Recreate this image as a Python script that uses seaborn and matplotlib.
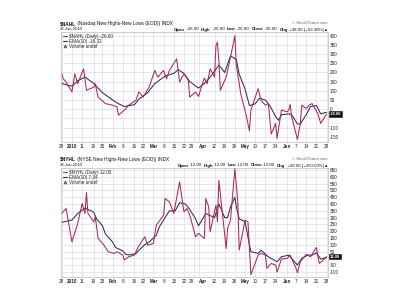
import matplotlib
matplotlib.use("Agg")
import matplotlib.pyplot as plt
import matplotlib.dates as mdates
from matplotlib.lines import Line2D
import seaborn as sns
import pandas as pd

# ---------------- data ----------------
nahl_dates = ['2009-12-28','2009-12-29','2009-12-31','2010-01-04','2010-01-06','2010-01-08','2010-01-12','2010-01-14',
              '2010-01-19','2010-01-20','2010-01-22','2010-01-27','2010-02-01','2010-02-04','2010-02-05','2010-02-09',
              '2010-02-12','2010-02-17','2010-02-19','2010-02-22','2010-02-26','2010-03-02','2010-03-04','2010-03-08',
              '2010-03-10','2010-03-12','2010-03-17','2010-03-19','2010-03-22','2010-03-25','2010-03-26','2010-03-30',
              '2010-04-01','2010-04-05','2010-04-07','2010-04-09','2010-04-12','2010-04-13','2010-04-14','2010-04-15',
              '2010-04-16','2010-04-20','2010-04-23','2010-04-26','2010-04-27','2010-04-29','2010-04-30','2010-05-04',
              '2010-05-06','2010-05-07','2010-05-12','2010-05-14','2010-05-17','2010-05-19','2010-05-21','2010-05-24',
              '2010-05-25','2010-05-28','2010-06-01','2010-06-02','2010-06-03','2010-06-04','2010-06-08','2010-06-10',
              '2010-06-11','2010-06-14','2010-06-16','2010-06-18','2010-06-22','2010-06-24','2010-06-28']
nahl_daily = [193,166,148,94,193,139,220,103,
              120,139,66,31,22,13,-32,-5,
              22,49,94,66,120,211,175,211,
              166,211,274,148,193,157,66,94,
              70,170,139,220,175,346,364,265,
              103,175,283,400,238,139,85,-41,
              -117,-5,112,49,22,31,-135,-77,
              -158,-5,-14,-5,27,-41,-164,-77,
              22,4,22,31,-23,-77,-26]

nahl_ema_dates = ['2009-12-28','2010-01-04','2010-01-08','2010-01-13','2010-01-19','2010-01-25','2010-02-01','2010-02-05',
                  '2010-02-09','2010-02-16','2010-02-19','2010-02-25','2010-03-02','2010-03-09','2010-03-15','2010-03-18',
                  '2010-03-22','2010-03-26','2010-04-01','2010-04-05','2010-04-09','2010-04-15','2010-04-19','2010-04-23',
                  '2010-04-27','2010-04-29','2010-05-03','2010-05-06','2010-05-10','2010-05-13','2010-05-17','2010-05-20',
                  '2010-05-24','2010-05-26','2010-05-28','2010-06-02','2010-06-04','2010-06-08','2010-06-10','2010-06-14',
                  '2010-06-17','2010-06-21','2010-06-24','2010-06-28']
nahl_ema = [140,125,155,175,140,90,50,30,
            15,25,55,90,140,180,195,215,
            195,150,115,140,175,240,200,290,
            270,190,110,20,30,60,50,20,
            -40,-60,-30,-25,-30,-80,-80,-30,
            15,20,-25,-16]

nyhl_dates = ['2009-12-28','2009-12-31','2010-01-04','2010-01-08','2010-01-11','2010-01-13','2010-01-14','2010-01-15',
              '2010-01-19','2010-01-20','2010-01-21','2010-01-22','2010-01-26','2010-01-29','2010-02-02','2010-02-04',
              '2010-02-08','2010-02-09','2010-02-12','2010-02-16','2010-02-18','2010-02-23','2010-02-25','2010-03-01',
              '2010-03-03','2010-03-08','2010-03-09','2010-03-12','2010-03-15','2010-03-19','2010-03-22','2010-03-24',
              '2010-03-26','2010-03-30','2010-04-01','2010-04-05','2010-04-06','2010-04-08','2010-04-09','2010-04-13',
              '2010-04-14','2010-04-15','2010-04-20','2010-04-21','2010-04-23','2010-04-26','2010-04-28','2010-04-29',
              '2010-05-03','2010-05-05','2010-05-07','2010-05-12','2010-05-14','2010-05-17','2010-05-18','2010-05-21',
              '2010-05-24','2010-05-25','2010-05-28','2010-06-01','2010-06-03','2010-06-07','2010-06-08','2010-06-10',
              '2010-06-14','2010-06-17','2010-06-21','2010-06-23','2010-06-25','2010-06-28']
nyhl_daily = [331,367,122,257,404,331,485,331,
              269,306,232,147,98,49,37,49,
              24,-12,12,24,73,159,98,110,
              245,318,441,416,331,563,343,367,
              318,159,184,147,441,379,196,392,
              269,575,73,220,282,661,416,61,
              282,269,-120,24,37,24,-73,-37,
              -49,-100,-5,0,24,-73,-105,-25,
              29,12,80,-37,-20,12]

nyhl_ema_dates = ['2009-12-28','2010-01-04','2010-01-08','2010-01-13','2010-01-19','2010-01-21','2010-01-25','2010-01-27',
                  '2010-02-01','2010-02-03','2010-02-08','2010-02-10','2010-02-12','2010-02-17','2010-02-19','2010-02-23',
                  '2010-02-26','2010-03-03','2010-03-05','2010-03-09','2010-03-12','2010-03-16','2010-03-19','2010-03-23',
                  '2010-03-26','2010-03-30','2010-04-01','2010-04-06','2010-04-12','2010-04-15','2010-04-19','2010-04-21',
                  '2010-04-23','2010-04-26','2010-04-27','2010-04-29','2010-05-03','2010-05-06','2010-05-07','2010-05-12',
                  '2010-05-14','2010-05-19','2010-05-21','2010-05-25','2010-05-28','2010-06-02','2010-06-04','2010-06-08',
                  '2010-06-11','2010-06-15','2010-06-18','2010-06-21','2010-06-24','2010-06-28']
nyhl_ema = [265,282,330,370,340,290,240,180,
            120,80,55,30,25,35,60,100,
            120,170,230,300,350,350,410,400,
            360,290,240,330,300,400,300,300,
            380,450,380,290,270,100,50,37,
            60,12,0,-25,12,24,0,-49,
            0,24,24,40,-5,7]

tick_dates = ['2009-12-28','2010-01-04','2010-01-11','2010-01-19','2010-01-25','2010-02-01','2010-02-08','2010-02-16',
              '2010-02-22','2010-03-01','2010-03-08','2010-03-15','2010-03-22','2010-03-29','2010-04-01','2010-04-12',
              '2010-04-19','2010-04-26','2010-05-03','2010-05-10','2010-05-17','2010-05-24','2010-06-01','2010-06-07',
              '2010-06-14','2010-06-21','2010-06-28']
tick_labels = ['28','2010','11','19','25','Feb','8','16','22','Mar','8','15','22','29','Apr','12','19','26',
               'May','10','17','24','Jun','7','14','21','28']
bold_labels = {'2010','Feb','Mar','Apr','May','Jun'}

top_yticks = list(range(-150, 401, 50))
bot_yticks = list(range(-100, 651, 50))

# ---------------- style ----------------
sns.set_theme(style="white")
plt.rcParams['font.family'] = ['Liberation Sans', 'DejaVu Sans']

RED = '#a8285c'
NAVY = '#2b2b5e'
GRID = '#dcdcdc'
W, H = 400, 300

fig = plt.figure(figsize=(4, 3), dpi=100)
fig.patch.set_facecolor('white')


def px_axes(l, t, r, b):
    return fig.add_axes([l / W, 1 - b / H, (r - l) / W, (b - t) / H])


def rich(x, y, pieces, ha='left', size=3.4):
    r = fig.canvas.get_renderer()
    texts = []
    for s, w, c in pieces:
        texts.append(fig.text(0, 0, s, fontsize=size, fontweight=w, color=c, va='center'))
    widths = [t.get_window_extent(r).width for t in texts]
    cur = x - sum(widths) if ha == 'right' else x
    for t, wd in zip(texts, widths):
        t.set_position((cur / W, 1 - y / H))
        cur += wd


def panel(ax, dates, daily, edates, ema, yticks, ylim, sym, dval, eval_, box_text, hide_tick):
    sns.lineplot(x=pd.to_datetime(edates), y=ema, ax=ax, color=NAVY, lw=0.75, estimator=None)
    sns.lineplot(x=pd.to_datetime(dates), y=daily, ax=ax, color=RED, lw=0.75, estimator=None)
    ax.set_xlim(pd.Timestamp('2009-12-27 12:00'), pd.Timestamp('2010-06-29 00:00'))
    ax.set_ylim(*ylim)
    ax.set_xticks(pd.to_datetime(tick_dates))
    ax.set_xticklabels(tick_labels)
    for i, lab in enumerate(ax.get_xticklabels()):
        lab.set_fontsize(3.3)
        lab.set_color('#222222')
        if lab.get_text() in bold_labels:
            lab.set_fontweight('bold')
        if tick_dates[i] == '2010-03-29':
            lab.set_horizontalalignment('right')
        if tick_dates[i] == '2010-04-01':
            lab.set_horizontalalignment('left')
    ax.set_yticks(yticks)
    ax.set_yticklabels(['' if v == hide_tick else str(v) for v in yticks], fontsize=3.3, color='#222222')
    ax.yaxis.tick_right()
    ax.tick_params(axis='both', length=0, pad=1.5)
    ax.grid(True, color=GRID, lw=0.5)
    ax.set_axisbelow(True)
    ax.set_xlabel('')
    ax.set_ylabel('')
    for sp in ax.spines.values():
        sp.set_color('#bbbbbb')
        sp.set_linewidth(0.5)
    handles = [Line2D([], [], color=RED, lw=0.8), Line2D([], [], color=NAVY, lw=0.8),
               Line2D([], [], color='#666666', marker='^', lw=0, markersize=1.6)]
    labels = [f'\\{sym} (Daily) {dval}', f'EMA(10) {eval_}', 'Volume undef']
    leg = ax.legend(handles, labels, loc='upper left', frameon=False, fontsize=3.3,
                    handlelength=1.0, handletextpad=0.3, labelspacing=0.05,
                    borderaxespad=0.25, borderpad=0.1)
    for t in leg.get_texts():
        t.set_color('#222222')
    ax.annotate(box_text, xy=(1.0, daily[-1]), xycoords=('axes fraction', 'data'),
                xytext=(1.5, 0), textcoords='offset points', fontsize=3.0, color='white',
                va='center', ha='left', fontweight='bold',
                bbox=dict(boxstyle='square,pad=0.15', fc='#111111', ec='#111111', lw=0.4),
                annotation_clip=False)


ax1 = px_axes(61, 32, 328, 142)
panel(ax1, nahl_dates, nahl_daily, nahl_ema_dates, nahl_ema, top_yticks, (-178, 420),
      '$NAHL', '-26.00', '-16.32', '-26.00', -50)

ax2 = px_axes(61, 168, 328, 277)
panel(ax2, nyhl_dates, nyhl_daily, nyhl_ema_dates, nyhl_ema, bot_yticks, (-137, 665),
      '$NYHL', '12.00', '7.34', '12.00', 0)

K = '#111111'
# headers - top
rich(60, 23.5, [('\\$NAHL', 'bold', K), (' (Nasdaq New Highs-New Lows (EOD)) INDX', 'normal', K)], size=3.4)
fig.text(60 / W, 1 - 29 / H, '28-Jun-2010', fontsize=3.0, color=K, va='center')
fig.text(328 / W, 1 - 23.5 / H, '© StockCharts.com', fontsize=3.0, color='#666666', va='center', ha='right')
rich(328, 29.5, [('Open', 'bold', K), (' -26.00  ', 'normal', K), ('High', 'bold', K), (' -26.00  ', 'normal', K),
                 ('Low', 'bold', K), (' -26.00  ', 'normal', K), ('Close', 'bold', K), (' -26.00  ', 'normal', K),
                 ('Chg', 'bold', K), (' +38.00 (+59.38%)▲', 'normal', K)], ha='right', size=3.2)

# headers - bottom
rich(60, 159, [('\\$NYHL', 'bold', K), (' (NYSE New Highs-New Lows (EOD)) INDX', 'normal', K)], size=3.4)
fig.text(60 / W, 1 - 165 / H, '28-Jun-2010', fontsize=3.0, color=K, va='center')
fig.text(328 / W, 1 - 159.5 / H, '© StockCharts.com', fontsize=3.0, color='#666666', va='center', ha='right')
rich(328, 165.5, [('Open', 'bold', K), (' 12.00  ', 'normal', K), ('High', 'bold', K), (' 12.00  ', 'normal', K),
                  ('Low', 'bold', K), (' 12.00  ', 'normal', K), ('Close', 'bold', K), (' 12.00  ', 'normal', K),
                  ('Chg', 'bold', K), (' +20.00 (+250.00%)▲', 'normal', K)], ha='right', size=3.2)

fig.savefig('out.png', dpi=100)
